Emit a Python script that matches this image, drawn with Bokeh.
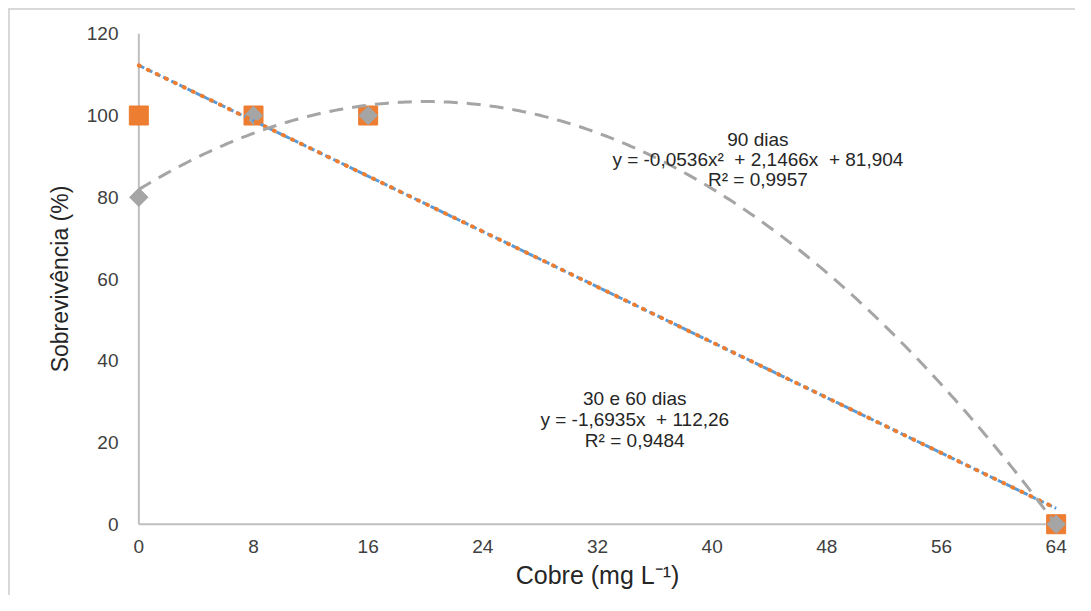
import numpy as np
from bokeh.plotting import figure
from bokeh.models import FixedTicker, Range1d
from bokeh.core.properties import value
from bokeh.embed import file_html
from bokeh.resources import INLINE

# ---- data ----
cobre = [0, 8, 16, 64]
dias30 = [100, 100, 100, 0]
dias60 = [100, 100, 100, 0]
dias90 = [80, 100, 100, 0]
x_ticks = [0, 8, 16, 24, 32, 40, 48, 56, 64]
y_ticks = [0, 20, 40, 60, 80, 100, 120]
NB = "\u00a0"
label_lin = ["30 e 60 dias", f"y = -1,6935x{NB}{NB}+ 112,26", "R² = 0,9484"]
label_quad = ["90 dias", f"y = -0,0536x²{NB}{NB}+ 2,1466x{NB}{NB}+ 81,904", "R² = 0,9957"]

# trend lines fitted from the data (Excel trendlines)
lin = np.polyfit(cobre, dias60, 1)
quad = np.polyfit(cobre, dias90, 2)
xs = np.linspace(min(cobre), max(cobre), 300)

FONT = "Liberation Sans"
ORANGE = "#ED7D31"
BLUE = "#5B9BD5"
GRAY = "#A5A5A5"

p = figure(width=1075, height=595, output_backend="svg", toolbar_location=None,
           x_range=Range1d(-1, 65), y_range=Range1d(-3, 123),
           min_border_left=124, min_border_right=5, min_border_top=21, min_border_bottom=59,
           background_fill_color="white", border_fill_color=None)
p.styles = {"background": ("linear-gradient(#D9D9D9,#D9D9D9) 8px 8px / 2px 100% no-repeat, "
                           "linear-gradient(#D9D9D9,#D9D9D9) 8px 8px / 100% 2px no-repeat, #FFFFFF")}
p.outline_line_color = None
p.grid.visible = False

for ax in (p.xaxis[0], p.yaxis[0]):
    ax.axis_line_color = None
    ax.major_tick_line_color = None
    ax.minor_tick_line_color = None
    ax.major_tick_out = 0
    ax.major_tick_in = 0
    ax.major_label_text_font = FONT
    ax.major_label_text_font_size = "19px"
    ax.major_label_text_color = "#404040"
    ax.axis_label_text_font = FONT
    ax.axis_label_text_font_style = "normal"
    ax.axis_label_text_color = "#262626"

p.xaxis.axis_label_text_font_size = "25px"
p.yaxis.axis_label_text_font_size = "23px"
p.xaxis.ticker = FixedTicker(ticks=x_ticks)
p.yaxis.ticker = FixedTicker(ticks=y_ticks)
p.xaxis.axis_label = "Cobre (mg L⁻¹)"
p.yaxis.axis_label = "Sobrevivência (%)"
p.xaxis.major_label_standoff = 3
p.yaxis.major_label_standoff = 6
p.xaxis.axis_label_standoff = 5
p.yaxis.axis_label_standoff = 11

# axis lines drawn at data zero
p.segment(x0=[min(x_ticks)], y0=[0], x1=[max(x_ticks)], y1=[0], line_color="#BFBFBF", line_width=2)
p.segment(x0=[0], y0=[min(y_ticks)], x1=[0], y1=[max(y_ticks)], line_color="#BFBFBF", line_width=2)

# markers
p.scatter(cobre, dias30, marker="square", angle=np.pi / 4, size=12, fill_color=BLUE, line_color=BLUE)
p.scatter(cobre, dias60, marker="square", size=19, fill_color=ORANGE, line_color=ORANGE)
p.scatter(cobre, dias90, marker="square", angle=np.pi / 4, size=13, fill_color=GRAY, line_color=GRAY)

# trend lines
p.line(xs, np.polyval(lin, xs), line_color=BLUE, line_width=3, line_dash="6 3")
p.line(xs, np.polyval(lin, xs), line_color=ORANGE, line_width=4, line_dash="1 9", line_cap="round")
p.line(xs, np.polyval(quad, xs), line_color=GRAY, line_width=3, line_dash="14 9")

# equation labels
p.text(x=[34.6] * 3, y=[30.76, 25.6, 20.55], text=label_lin, text_align="center",
       text_baseline="middle", text_font=value(FONT), text_font_size="19px", text_color="#262626")
p.text(x=[43.19] * 3, y=[94.1, 89.2, 84.3], text=label_quad, text_align="center",
       text_baseline="middle", text_font=value(FONT), text_font_size="19px", text_color="#262626")

open("out.html", "w").write(file_html(p, INLINE))
